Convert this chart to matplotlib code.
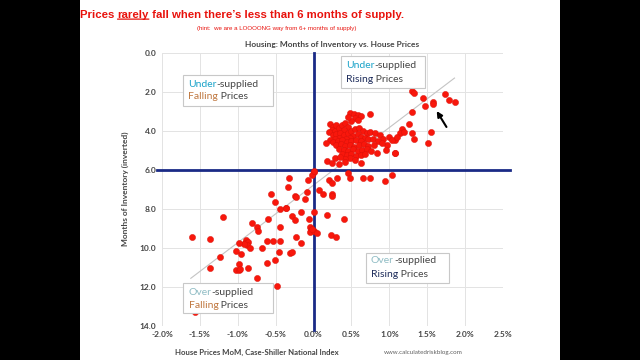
import matplotlib
matplotlib.use("Agg")
import matplotlib.pyplot as plt
from matplotlib.patches import Rectangle
from matplotlib.text import Annotation
from matplotlib.ticker import FuncFormatter

# House prices MoM (%) vs months of inventory
mom_pct = [
    # upper right
    1.30, 1.32, 1.44, 1.47, 1.575, 1.58, 1.73, 1.79, 1.87, 1.30, 1.26, 1.30, 1.32,
    1.55, 1.51, 1.17, 1.07,
    # dense cluster
    0.48, 0.53, 0.58, 0.62, 0.55, 0.59, 0.50, 0.46, 0.74,
    0.22, 0.26, 0.30, 0.24, 0.20, 0.28, 0.34, 0.38, 0.42, 0.45, 0.40,
    0.25, 0.30, 0.35, 0.40, 0.45, 0.50, 0.55, 0.60, 0.65, 0.70, 0.52, 0.58, 0.63,
    0.68, 0.48, 0.43, 0.33, 0.28, 0.22, 0.17, 0.26, 0.32, 0.38, 0.44, 0.50, 0.56,
    0.62, 0.72, 0.78, 0.75, 0.81, 0.88, 0.99, 1.08, 1.14, 1.19, 0.92, 0.85, 0.97,
    0.90, 1.03, 1.10,
    0.30, 0.36, 0.42, 0.48, 0.54, 0.60, 0.66, 0.72, 0.80, 0.34, 0.40, 0.46, 0.52,
    0.58, 0.64, 0.70, 0.76, 0.84, 0.95, 1.08, 0.38, 0.44, 0.50, 0.56, 0.62, 0.68,
    0.48, 0.42, 0.55, 0.18, 0.24, 0.33, 0.42, 0.62, 0.28, 0.35,
    # below six months line
    0.00, -0.02, 0.01, -0.07, -0.33, -0.34, 0.46, 0.48, 0.31, 0.21, 0.24, 0.65,
    0.75, 0.94, 1.04, 0.07, 0.13, 0.24, 0.24, -0.09, -0.24, -0.23, -0.11, -0.56,
    -0.51, -0.44, -0.37, -0.36, 0.01, -0.16, -0.29, -0.25, -0.06, 0.18, 0.40,
    -0.05, -0.03, -0.05, 0.00, -0.02, 0.04, 0.23, 0.29, -0.23, -0.16, -0.44,
    -0.60, -0.62, -0.54, -0.44, -0.46, -0.31, -0.29, -0.51, -0.61, -0.68, -0.74,
    -0.48, -0.81, -0.75, -0.73, -0.89, -0.90, -0.86, -0.88, -0.84, -0.92, -0.98,
    -0.96, -1.02, -0.98, -1.02, -0.99, -0.97, -0.86, -1.19, -1.37, -1.60, -1.23,
    -1.37, -1.57,
]
months = [
    1.96, 2.05, 2.31, 2.72, 2.54, 2.63, 2.12, 2.43, 2.54, 3.04, 3.64, 4.10, 4.44,
    4.05, 4.65, 3.93, 5.13,
    3.08, 3.14, 3.22, 3.25, 3.35, 3.45, 3.50, 3.30, 3.14,
    3.66, 3.79, 3.72, 3.95, 4.05, 4.00, 3.85, 3.70, 3.62, 3.80, 3.95,
    4.20, 4.15, 4.10, 4.20, 4.10, 4.00, 3.90, 3.85, 4.00, 4.10, 4.25, 4.15, 4.30,
    4.35, 4.35, 4.40, 4.35, 4.45, 4.50, 4.65, 4.60, 4.55, 4.50, 4.60, 4.55, 4.50,
    4.55, 4.45, 4.40, 4.05, 4.13, 4.22, 4.31, 4.48, 4.13, 4.05, 4.40, 4.55, 4.73,
    4.65, 4.50, 4.30,
    4.75, 4.70, 4.80, 4.75, 4.85, 4.75, 4.70, 4.80, 4.75, 4.95, 5.00, 5.05, 4.95,
    5.05, 5.00, 4.95, 5.05, 5.16, 4.99, 5.13, 5.20, 5.25, 5.20, 5.30, 5.25, 5.20,
    5.40, 5.45, 5.50, 5.55, 5.64, 5.72, 5.59, 5.64, 5.40, 5.35,
    6.10, 6.25, 6.05, 6.53, 6.44, 6.90, 6.15, 6.44, 6.44, 6.53, 6.67, 6.44,
    6.44, 6.56, 6.25, 7.04, 7.25, 7.25, 7.35, 7.13, 7.35, 7.42, 7.52, 7.25,
    7.64, 8.03, 7.98, 7.95, 8.15, 8.15, 8.37, 8.56, 8.54, 8.32, 8.54,
    8.95, 9.10, 9.20, 9.12, 9.05, 9.23, 9.35, 9.44, 9.44, 9.74, 8.95,
    8.54, 9.64, 9.64, 9.64, 10.20, 10.29, 10.20, 10.62, 10.76, 10.03, 11.55,
    11.96, 8.74, 8.93, 9.13, 9.62, 9.75, 9.70, 9.85, 10.00, 9.80, 9.76,
    10.32, 10.15, 10.84, 11.12, 11.15, 11.10, 11.04, 8.44, 9.56, 9.44, 10.46,
    11.05, 13.30,
]

trend_x = [-1.62, 1.86]
trend_y = [11.57, 1.30]

x_ticks = [-2.0, -1.5, -1.0, -0.5, 0.0, 0.5, 1.0, 1.5, 2.0, 2.5]
y_ticks = [0, 2, 4, 6, 8, 10, 12, 14]

NAVY = "#1a2a86"
GRAY = "#454545"
CYAN = "#1aa3c9"
TEAL = "#8fbcc4"
BROWN = "#c07840"
DARK = "#1f2d5c"
RED = "#e8120c"
DOT = "#f8170c"

fig = plt.figure(figsize=(6.4, 3.6), dpi=100, facecolor="white")
# black letterbox bars
for x0 in (0, 560 / 640):
    fig.patches.append(Rectangle((x0, 0), 80 / 640, 1, transform=fig.transFigure,
                                 facecolor="black", edgecolor="none", zorder=0))

ax = fig.add_axes([162 / 640, 34.3 / 360, 341 / 640, 273 / 360])
ax.set_xlim(-2.0, 2.5)
ax.set_ylim(14, 0)
ax.set_xticks(x_ticks)
ax.set_yticks(y_ticks)
ax.xaxis.set_major_formatter(FuncFormatter(lambda v, p: "%.1f%%" % v))
ax.yaxis.set_major_formatter(FuncFormatter(lambda v, p: "%.1f" % v))
ax.tick_params(length=0, labelsize=6, colors=GRAY, pad=4)
for lab in ax.get_xticklabels() + ax.get_yticklabels():
    lab.set_family("Lato")
    lab.set_fontweight("bold")
for s in ax.spines.values():
    s.set_visible(False)
ax.grid(color="#e3e3e3", lw=0.7)
ax.set_axisbelow(True)

ax.plot(trend_x, trend_y, color="#c4c4c4", lw=0.8, zorder=2)
ax.axvline(0, ymin=-0.015, ymax=1.0, color=NAVY, lw=2.0, clip_on=False, zorder=3)
ax.axhline(6, xmin=-0.015, xmax=1.02, color=NAVY, lw=2.0, clip_on=False, zorder=3)
ax.scatter(mom_pct, months, s=20, color=DOT, edgecolor="#d81008", lw=0.3, zorder=4)

ax.annotate("", xy=(1.606, 2.87), xytext=(1.773, 3.93),
            arrowprops=dict(arrowstyle="-|>", color="black", lw=1.5, mutation_scale=8),
            zorder=5)

ax.set_title("Housing: Months of Inventory vs. House Prices", fontsize=6,
             color=GRAY, family="Lato", fontweight="bold", pad=4)
ax.set_ylabel("Months of Inventory (inverted)", fontsize=6, color=GRAY,
              family="Lato", fontweight="bold", labelpad=8)


def colored_line(x, y, parts, size=7.5):
    t = ax.text(x, y, parts[0][0], color=parts[0][1], fontsize=size,
                family="Lato", va="center", ha="left", zorder=7)
    for s, c in parts[1:]:
        t = ax.annotate(s, xy=(1, 0), xycoords=t, va="bottom", ha="left",
                        color=c, fontsize=size, family="Lato", zorder=7)


boxes = [
    ((-1.719, 1.14), (-0.532, 2.73), -1.654, 1.61, 2.26,
     [("Under", CYAN), ("-supplied", GRAY)], [("Falling", BROWN), (" Prices", GRAY)]),
    ((0.365, 0.17), (1.473, 1.81), 0.43, 0.68, 1.35,
     [("Under", CYAN), ("-supplied", GRAY)], [("Rising", DARK), (" Prices", GRAY)]),
    ((0.695, 10.27), (1.79, 11.81), 0.757, 10.68, 11.35,
     [("Over", TEAL), ("-supplied", GRAY)], [("Rising", DARK), (" Prices", GRAY)]),
    ((-1.719, 11.81), (-0.532, 13.35), -1.65, 12.29, 12.94,
     [("Over", TEAL), ("-supplied", GRAY)], [("Falling", BROWN), (" Prices", GRAY)]),
]
for (x0, y0), (x1, y1), tx, ty1, ty2, l1, l2 in boxes:
    ax.add_patch(Rectangle((x0, y0), x1 - x0, y1 - y0, facecolor="white",
                           edgecolor="#c8c8c8", lw=0.8, zorder=6))
    colored_line(tx, ty1, l1)
    colored_line(tx, ty2, l2)

# headline with underlined word
fam = "Liberation Sans"
hs = 8.2
t1 = fig.text(80 / 640, 0.958, "Prices ", color=RED, fontsize=hs,
              fontweight="bold", family=fam, va="center", ha="left")
t2 = fig.add_artist(Annotation("rarely", xy=(1, 0), xycoords=t1, va="bottom",
                               color=RED, fontsize=hs, fontweight="bold", family=fam))
fig.add_artist(Annotation(" fall when there\u2019s less than 6 months of supply.",
                          xy=(1, 0), xycoords=t2, va="bottom", color=RED,
                          fontsize=hs, fontweight="bold", family=fam))
fig.add_artist(Annotation("", xy=(1, 0.1), xycoords=t2, xytext=(0, 0.1),
                          textcoords=t2,
                          arrowprops=dict(arrowstyle="-", color=RED, lw=0.9,
                                          shrinkA=0, shrinkB=0)))

fig.text(197 / 640, 0.922, "(hint:  we are a LOOOONG way from 6+ months of supply)",
         color=RED, fontsize=4.4, family=fam, va="center", ha="left")
fig.text(257 / 640, 0.022, "House Prices MoM, Case-Shiller National Index", fontsize=5.6,
         color=GRAY, family="Lato", fontweight="bold", ha="center", va="center")
fig.text(423 / 640, 0.02, "www.calculatedriskblog.com", fontsize=4.5,
         color="#606060", family="Lato", ha="center", va="center")

fig.savefig("out.png", dpi=100, facecolor=fig.get_facecolor())
